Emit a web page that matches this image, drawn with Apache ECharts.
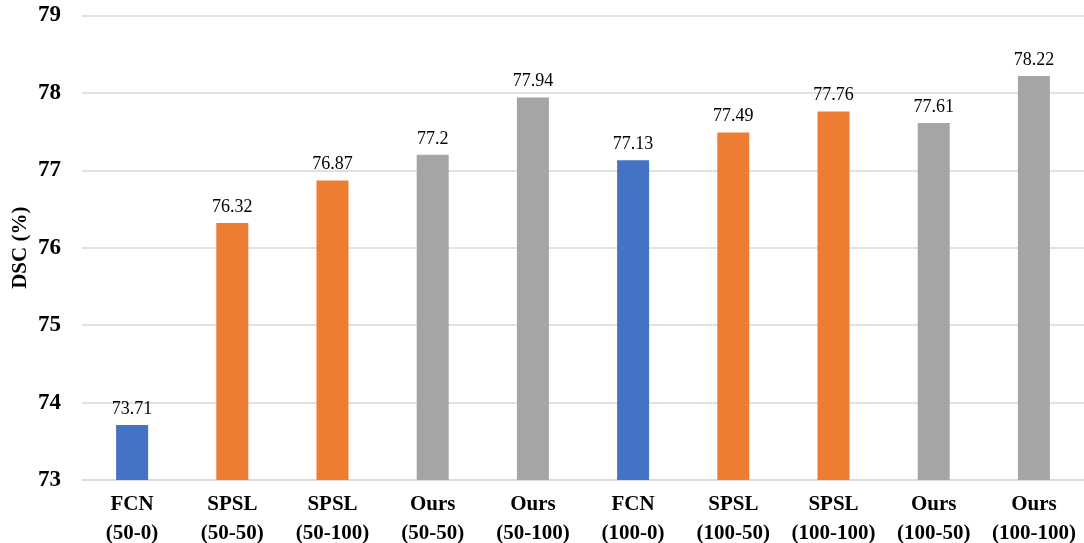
<!DOCTYPE html>
<html>
<head>
<meta charset="utf-8">
<script src="https://cdn.jsdelivr.net/npm/echarts@6/dist/echarts.min.js"></script>
<style>
html,body{margin:0;padding:0;background:#fff;}
#c{width:1084px;height:543px;}
</style>
</head>
<body>
<div id="c"></div>
<script>
const categories = ['FCN\n(50-0)','SPSL\n(50-50)','SPSL\n(50-100)','Ours\n(50-50)','Ours\n(50-100)','FCN\n(100-0)','SPSL\n(100-50)','SPSL\n(100-100)','Ours\n(100-50)','Ours\n(100-100)'];
const methods = ['FCN','SPSL','SPSL','Ours','Ours','FCN','SPSL','SPSL','Ours','Ours'];
const values = [73.71, 76.32, 76.87, 77.2, 77.94, 77.13, 77.49, 77.76, 77.61, 78.22];
const yTicks = [73, 74, 75, 76, 77, 78, 79];

const methodColor = {FCN:'#4472C4', SPSL:'#ED7D31', Ours:'#A5A5A5'};
const font = '"Liberation Serif","Times New Roman",serif';

const chart = echarts.init(document.getElementById('c'));
chart.setOption({
  animation:false,
  backgroundColor:'#fff',
  grid:{left:82, right:0, top:15.5, bottom:63, containLabel:false, outerBoundsMode:'none'},
  xAxis:{
    type:'category',
    data:categories,
    axisTick:{show:false},
    axisLine:{show:true, lineStyle:{color:'#d9d9d9', width:1.5}},
    axisLabel:{fontFamily:font, fontWeight:'bold', fontSize:21, color:'#000', lineHeight:29, margin:10, interval:0}
  },
  yAxis:{
    type:'value',
    min:yTicks[0], max:yTicks[yTicks.length-1], interval:1,
    name:'DSC (%)',
    nameLocation:'middle',
    nameGap:51,
    nameMoveOverlap:false,
    nameTextStyle:{fontFamily:font, fontWeight:'bold', fontSize:21, color:'#000'},
    axisLine:{show:false},
    axisTick:{show:false},
    splitLine:{lineStyle:{color:'#d9d9d9', width:1.5}},
    axisLabel:{fontFamily:font, fontWeight:'bold', fontSize:23, color:'#000', margin:21}
  },
  series:[{
    type:'bar',
    barWidth:32,
    data:values.map((v,i)=>({value:v, itemStyle:{color:methodColor[methods[i]]}})),
    label:{show:true, position:'top', distance:7, fontFamily:font, fontSize:18, color:'#000'}
  }]
});
</script>
</body>
</html>
